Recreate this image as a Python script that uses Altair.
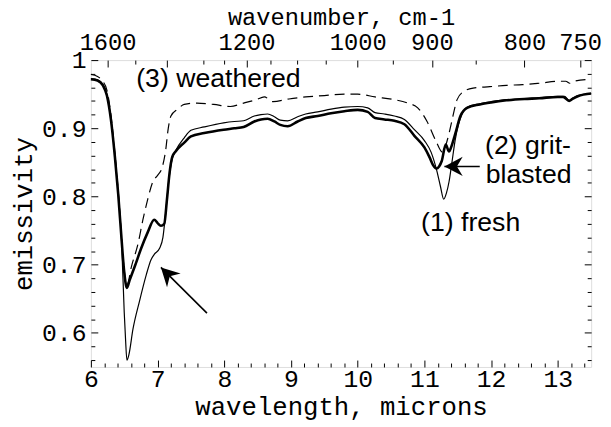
import altair as alt
import pandas as pd

# ---- data ----
fresh_x = [6.00, 6.10, 6.18, 6.24, 6.30, 6.36, 6.41, 6.46, 6.50, 6.52, 6.54, 6.57, 6.63, 6.73, 6.83,
           6.90, 6.95, 7.03, 7.08, 7.12, 7.17, 7.22, 7.27, 7.40, 7.50, 7.70, 7.99, 8.15, 8.29, 8.45,
           8.55, 8.65, 8.75, 8.84, 8.95, 9.10, 9.22, 9.40, 9.60, 9.80, 10.00, 10.15, 10.26, 10.40,
           10.55, 10.70, 10.85, 11.00, 11.10, 11.18, 11.24, 11.29, 11.33, 11.37, 11.41, 11.46, 11.51,
           11.56, 11.64, 11.83, 12.00, 12.23, 12.50, 12.72, 13.00, 13.10, 13.17, 13.22, 13.30, 13.50]
fresh_y = [0.973, 0.971, 0.965, 0.950, 0.915, 0.860, 0.805, 0.735, 0.630, 0.590, 0.560, 0.568, 0.605,
           0.647, 0.685, 0.707, 0.715, 0.724, 0.740, 0.775, 0.825, 0.855, 0.867, 0.886, 0.897, 0.902,
           0.908, 0.910, 0.911, 0.918, 0.920, 0.921, 0.917, 0.912, 0.911, 0.917, 0.921, 0.924, 0.928,
           0.931, 0.932, 0.930, 0.923, 0.921, 0.918, 0.913, 0.898, 0.882, 0.865, 0.840, 0.815, 0.796,
           0.805, 0.822, 0.848, 0.882, 0.905, 0.920, 0.931, 0.936, 0.939, 0.942, 0.943, 0.945, 0.947,
           0.947, 0.941, 0.944, 0.948, 0.951]

grit_x = [6.00, 6.10, 6.18, 6.24, 6.30, 6.36, 6.41, 6.46, 6.50, 6.54, 6.58, 6.66, 6.75, 6.85, 6.95,
          7.00, 7.05, 7.10, 7.14, 7.18, 7.22, 7.27, 7.40, 7.50, 7.70, 7.99, 8.15, 8.29, 8.45, 8.55,
          8.65, 8.75, 8.84, 8.95, 9.10, 9.22, 9.40, 9.60, 9.80, 10.00, 10.15, 10.26, 10.40, 10.55,
          10.70, 10.85, 11.00, 11.08, 11.13, 11.18, 11.22, 11.26, 11.32, 11.37, 11.40, 11.46, 11.54,
          11.64, 11.83, 12.00, 12.23, 12.50, 12.72, 13.00, 13.08, 13.17, 13.22, 13.30, 13.50]
grit_y = [0.972, 0.970, 0.963, 0.948, 0.913, 0.858, 0.803, 0.737, 0.689, 0.666, 0.677, 0.698, 0.723,
          0.747, 0.766, 0.761, 0.757, 0.760, 0.795, 0.835, 0.858, 0.866, 0.879, 0.888, 0.893, 0.898,
          0.900, 0.902, 0.910, 0.913, 0.914, 0.910, 0.905, 0.903, 0.910, 0.915, 0.918, 0.922, 0.925,
          0.927, 0.924, 0.915, 0.913, 0.911, 0.906, 0.889, 0.872, 0.857, 0.846, 0.841, 0.844, 0.852,
          0.876, 0.866, 0.872, 0.891, 0.918, 0.930, 0.935, 0.938, 0.941, 0.943, 0.944, 0.946, 0.946,
          0.940, 0.943, 0.947, 0.951]

weath_x = [6.00, 6.10, 6.16, 6.24, 6.30, 6.36, 6.41, 6.46, 6.50, 6.54, 6.61, 6.71, 6.78, 6.85, 6.93,
           7.00, 7.07, 7.12, 7.16, 7.20, 7.30, 7.40, 7.59, 7.84, 8.09, 8.29, 8.48, 8.60, 8.73, 8.97,
           9.22, 9.50, 9.80, 10.00, 10.26, 10.55, 10.75, 10.90, 11.04, 11.17, 11.27, 11.35, 11.41,
           11.49, 11.59, 11.73, 11.98, 12.23, 12.47, 12.72, 13.02, 13.12, 13.18, 13.24, 13.50]
weath_y = [0.979, 0.976, 0.971, 0.956, 0.920, 0.864, 0.808, 0.740, 0.692, 0.670, 0.698, 0.732, 0.766,
           0.795, 0.822, 0.831, 0.843, 0.867, 0.900, 0.918, 0.928, 0.935, 0.937, 0.935, 0.932, 0.937,
           0.942, 0.946, 0.939, 0.943, 0.946, 0.948, 0.950, 0.950, 0.946, 0.942, 0.937, 0.930, 0.910,
           0.882, 0.865, 0.885, 0.910, 0.942, 0.954, 0.959, 0.961, 0.963, 0.964, 0.966, 0.969, 0.969,
           0.966, 0.969, 0.972]

# axis ticks
x_major = [6, 7, 8, 9, 10, 11, 12, 13]
x_minor = [6.2, 6.4, 6.6, 6.8, 7.2, 7.4, 7.6, 7.8, 8.2, 8.4, 8.6, 8.8, 9.2, 9.4, 9.6, 9.8,
           10.2, 10.4, 10.6, 10.8, 11.2, 11.4, 11.6, 11.8, 12.2, 12.4, 12.6, 12.8, 13.2, 13.4]
y_major = [0.6, 0.7, 0.8, 0.9, 1.0]
y_minor = [0.56, 0.58, 0.62, 0.64, 0.66, 0.68, 0.72, 0.74, 0.76, 0.78,
           0.82, 0.84, 0.86, 0.88, 0.92, 0.94, 0.96, 0.98]
wn_major = [1600, 1400, 1200, 1000, 900, 800, 750]
wn_minor = [1500, 1300, 1250, 1150, 1100, 1050, 950, 850]

# annotations
ann_text = ["(3) weathered", "(2) grit-", "blasted", "(1) fresh"]
ann_x = [6.68, 11.91, 11.92, 10.95]
ann_y = [0.961, 0.862, 0.820, 0.749]

arrow_x = [7.74, 11.83]
arrow_y = [0.629, 0.844]
arrow_x2 = [7.05, 11.30]
arrow_y2 = [0.696, 0.844]
arrow_angle = [315, 270]

# ---- tables ----
fresh = pd.DataFrame({"wl": fresh_x, "em": fresh_y})
grit = pd.DataFrame({"wl": grit_x, "em": grit_y})
weath = pd.DataFrame({"wl": weath_x, "em": weath_y})
ann = pd.DataFrame({"t": ann_text, "x": ann_x, "y": ann_y})
arrows = pd.DataFrame({"x": arrow_x, "y": arrow_y, "x2": arrow_x2, "y2": arrow_y2, "ang": arrow_angle})

xs = alt.Scale(domain=[6, 13.5], nice=False, zero=False)
ys = alt.Scale(domain=[0.55, 1.0], nice=False, zero=False)

MONO = "Liberation Mono"
common = dict(grid=False, domain=False, tickColor="black", labelColor="black", titleColor="black",
              labelFont=MONO, labelFontSize=25, titleFont=MONO, titleFontSize=26,
              titleFontWeight="normal", labelFlush=False, labelOverlap=False, tickWidth=1)

major = alt.ExprRef(expr="-7")
minor = alt.ExprRef(expr="-4")

top_major_pos = [10000 / w for w in wn_major]
top_minor_pos = [10000 / w for w in wn_minor]

line_fresh = alt.Chart(fresh).mark_line(color="black", strokeWidth=1.2, interpolate="monotone").encode(
    x=alt.X("wl:Q", scale=xs, axis=alt.Axis(orient="bottom", values=x_major, tickSize=major,
                                            labelPadding=7, title="wavelength, microns",
                                            titlePadding=2, **common)),
    y=alt.Y("em:Q", scale=ys, axis=alt.Axis(orient="left", values=y_major, tickSize=major,
                                            labelPadding=12, title="emissivity", titlePadding=5,
                                            labelExpr="format(datum.value, '.1~f')", **common)),
)
line_grit = alt.Chart(grit).mark_line(color="black", strokeWidth=2.6, interpolate="monotone").encode(
    x=alt.X("wl:Q", scale=xs, axis=None),
    y=alt.Y("em:Q", scale=ys, axis=None),
)
line_weath = alt.Chart(weath).mark_line(color="black", strokeWidth=1.2, strokeDash=[10, 6],
                                        interpolate="monotone").encode(
    x=alt.X("wl:Q", scale=xs, axis=None),
    y=alt.Y("em:Q", scale=ys, axis=None),
)

top_common = dict(common)
top_common["titleFontSize"] = 24
top_common["labelFontSize"] = 24

shafts = alt.Chart(arrows).mark_rule(color="black", strokeWidth=1.6).encode(
    x=alt.X("x:Q", scale=xs, axis=alt.Axis(orient="top", values=top_major_pos, tickSize=major,
                                           labelPadding=13, title="wavenumber, cm-1", titlePadding=1,
                                           labelExpr="abs(10000/datum.value - 1400) < 1 ? '' : format(10000/datum.value, '.0f')",
                                           **top_common)),
    y=alt.Y("y:Q", scale=ys, axis=alt.Axis(orient="right", values=y_major, tickSize=major,
                                           labels=False, title=None, **common)),
    x2="x2:Q",
    y2="y2:Q",
)

heads = alt.Chart(arrows).mark_point(
    shape="M0,0L1,1.9L0,1.3L-1,1.9Z", filled=True, color="black", opacity=1, size=380, strokeWidth=0
).encode(
    x=alt.X("x2:Q", scale=xs, axis=alt.Axis(orient="bottom", values=x_minor, tickSize=minor,
                                            labels=False, title=None, **common)),
    y=alt.Y("y2:Q", scale=ys, axis=alt.Axis(orient="left", values=y_minor, tickSize=minor,
                                            labels=False, title=None, **common)),
    angle=alt.Angle("ang:Q", scale=None),
)

texts = alt.Chart(ann).mark_text(
    font="Liberation Sans", fontSize=27, align="left", baseline="alphabetic", color="black"
).encode(
    x=alt.X("x:Q", scale=xs, axis=alt.Axis(orient="top", values=top_minor_pos, tickSize=minor,
                                           labels=False, title=None, **common)),
    y=alt.Y("y:Q", scale=ys, axis=alt.Axis(orient="right", values=y_minor, tickSize=minor,
                                           labels=False, title=None, **common)),
    text="t:N",
)

chart = alt.layer(line_weath, line_grit, line_fresh, shafts, heads, texts).resolve_axis(
    x="independent", y="independent"
).properties(
    width=507, height=311,
    autosize=alt.AutoSizeParams(type="none"),
    padding={"left": 84, "top": 50, "right": 12, "bottom": 55},
).configure_view(stroke="black", strokeWidth=1.2).configure(background="white")

chart.save("out.html", embed_options={"renderer": "svg", "actions": False})
